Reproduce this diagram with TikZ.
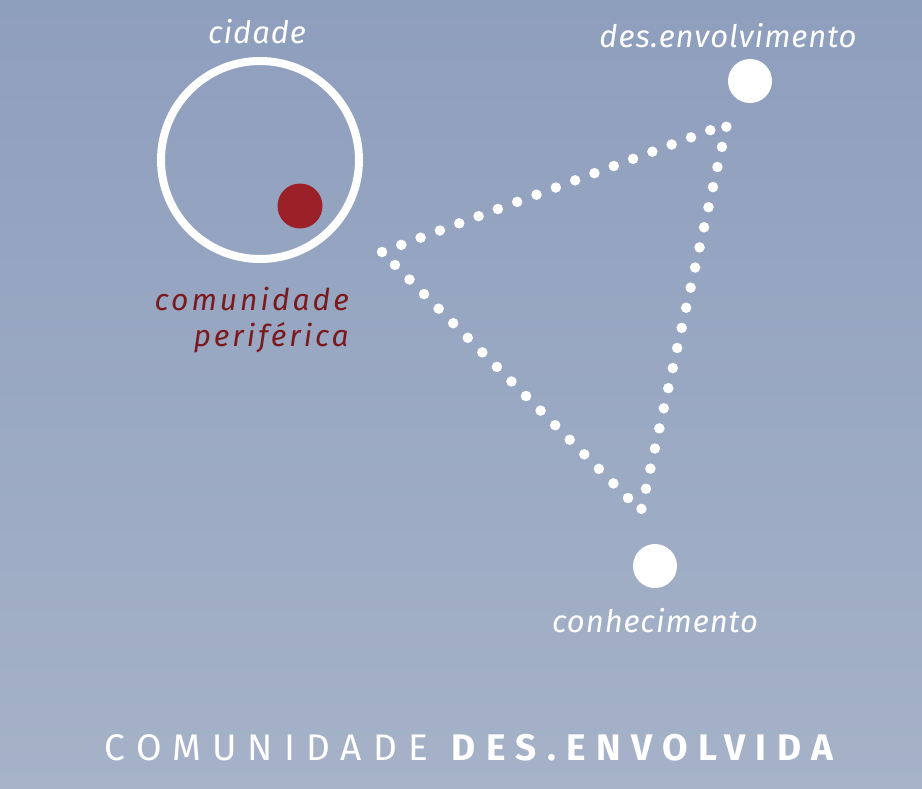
\documentclass[tikz,border=0pt]{standalone}
\usepackage{fontspec}
\newfontfamily\lightit{Fira Sans}[LetterSpace=3]
\newfontfamily\redit{Fira Sans}[LetterSpace=10]
\newfontfamily\thinfont{Fira Sans}[LetterSpace=30]
\newfontfamily\boldfont{Fira Sans}[LetterSpace=28]
\definecolor{bgtop}{RGB}{142,158,189}
\definecolor{bgbottom}{RGB}{165,178,200}
\definecolor{dotred}{RGB}{155,32,39}
\definecolor{textred}{RGB}{122,26,31}
\tikzset{
	hub/.style = {circle, fill = white, minimum size = 44pt, inner sep = 0pt},
	label/.style = {text = white, font = \lightit\itshape\fontsize{31}{34}\selectfont, anchor = base},
	redlabel/.style = {text = textred, font = \redit\itshape\fontsize{30}{34}\selectfont, anchor = base east, inner sep = 0pt},
	dotline/.style = {white, line width = 10.5pt, line cap = round, dash pattern = on 0pt off 20.6pt}
}
\begin{document}
\begin{tikzpicture}[x = 1pt, y = -1pt]
	\useasboundingbox (0, 0) rectangle (922, 788);
	\shade[top color = bgtop, bottom color = bgbottom] (0, 0) rectangle (922, 788);
	\node[circle, draw = white, line width = 8pt, minimum size = 198pt, inner sep = 0pt] (cidade) at (260, 160) {};
	\node[circle, fill = dotred, minimum size = 45pt, inner sep = 0pt] (comunidade) at (300, 206) {};
	\node[label] (cidadetxt) at (257, 43) {cidade};
	\node[redlabel] (comunidadetxt) at (349, 310) {comunidade};
	\node[redlabel] (perifericatxt) at (349, 346) {periférica};
	\node[hub] (des) at (750, 81) {};
	\node[label] (destxt) at (728, 47) {des.envolvimento};
	\node[hub] (conhec) at (655, 566) {};
	\node[label] (conhectxt) at (655, 632) {conhecimento};
	\coordinate (a) at (382, 252);
	\coordinate (b) at (727, 124);
	\coordinate (c) at (641, 511);
	\draw[dotline] (a) -- (b) -- (c) -- cycle;
	\node[text = white, anchor = base, inner sep = 0pt] (titulo) at (469, 760) {\fontsize{37}{40}\selectfont\thinfont COMUNIDADE\hspace{24pt}\boldfont\bfseries DES.ENVOLVIDA};
\end{tikzpicture}
\end{document}
